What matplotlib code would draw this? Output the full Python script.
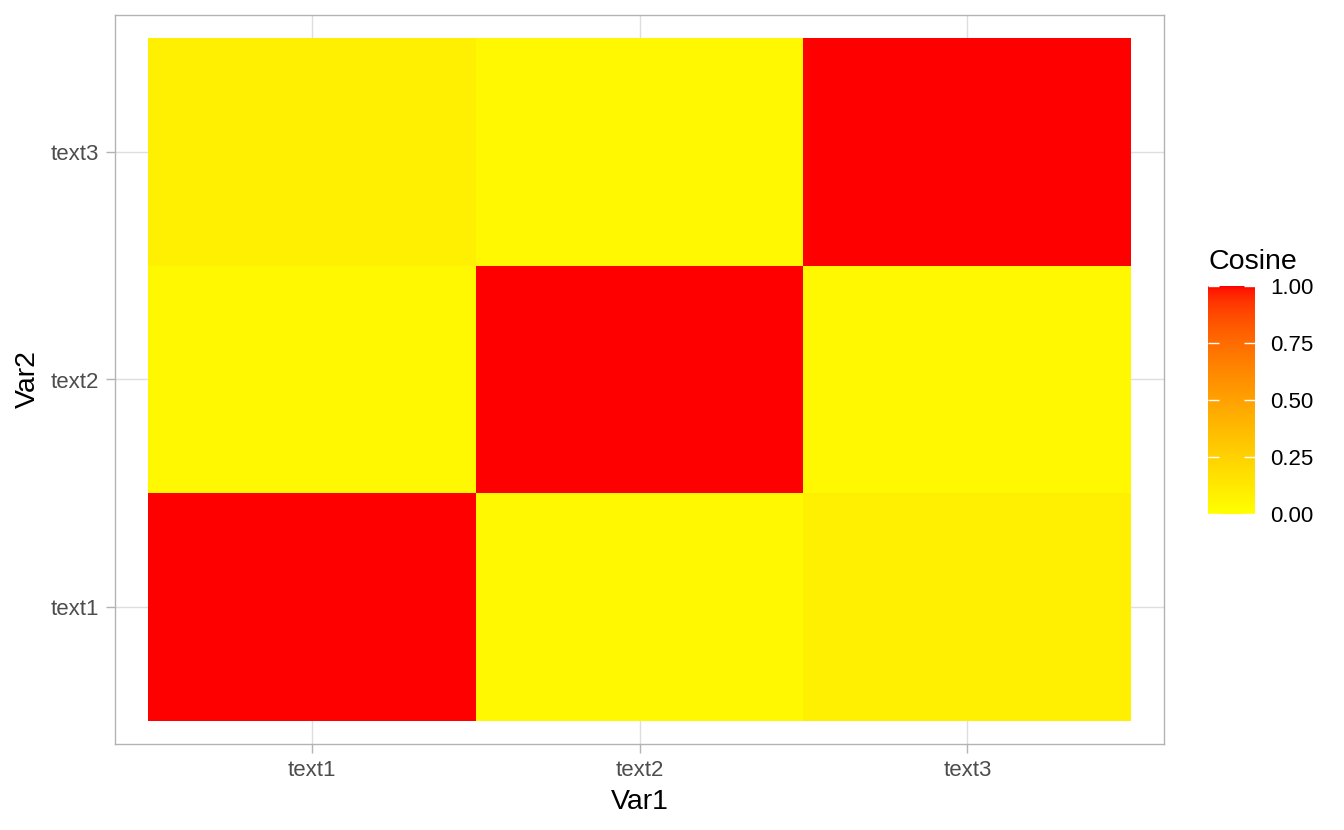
import numpy as np
import matplotlib
matplotlib.use("Agg")
import matplotlib.pyplot as plt
from matplotlib.colors import ListedColormap

plt.rcParams['font.family'] = ['Liberation Sans', 'DejaVu Sans']

labels = ["text1", "text2", "text3"]
# cosine[i_var2][j_var1]
cosine = np.array([
    [1.00, 0.04, 0.09],
    [0.04, 1.00, 0.04],
    [0.09, 0.04, 1.00],
])

# --- Lab-interpolated yellow -> red gradient (like ggplot2 scale_fill_gradient)
def srgb_to_lin(c):
    c = np.asarray(c, float)
    return np.where(c <= 0.04045, c / 12.92, ((c + 0.055) / 1.055) ** 2.4)

def lin_to_srgb(c):
    c = np.clip(c, 0, 1)
    return np.where(c <= 0.0031308, 12.92 * c, 1.055 * c ** (1 / 2.4) - 0.055)

M = np.array([[0.4124, 0.3576, 0.1805],
              [0.2126, 0.7152, 0.0722],
              [0.0193, 0.1192, 0.9505]])
Minv = np.linalg.inv(M)
white = M @ np.ones(3)

def f(t):
    d = 6 / 29
    return np.where(t > d ** 3, np.cbrt(t), t / (3 * d * d) + 4 / 29)

def finv(t):
    d = 6 / 29
    return np.where(t > d, t ** 3, 3 * d * d * (t - 4 / 29))

def rgb_to_lab(rgb):
    xyz = M @ srgb_to_lin(rgb) / white
    fx, fy, fz = f(xyz)
    return np.array([116 * fy - 16, 500 * (fx - fy), 200 * (fy - fz)])

def lab_to_rgb(lab):
    L, a, b = lab
    fy = (L + 16) / 116
    fx = fy + a / 500
    fz = fy - b / 200
    xyz = np.array([finv(fx), finv(fy), finv(fz)]) * white
    return lin_to_srgb(Minv @ xyz)

lab_lo = rgb_to_lab([1, 1, 0])
lab_hi = rgb_to_lab([1, 0, 0])
ts = np.linspace(0, 1, 256)
cols = [np.clip(lab_to_rgb(lab_lo + t * (lab_hi - lab_lo)), 0, 1) for t in ts]
cmap = ListedColormap(cols)

fig = plt.figure(figsize=(13.44, 8.30), dpi=100)
ax = fig.add_axes([115 / 1344, 1 - 744 / 830, 1049 / 1344, 729 / 830])

pos = np.arange(1, 4)
edges = np.arange(0.5, 4.0, 1.0)
mesh = ax.pcolormesh(edges, edges, cosine, cmap=cmap, vmin=0, vmax=1,
                     shading='flat', zorder=2, edgecolor='none')

ax.set_xlim(0.4, 3.6)
ax.set_ylim(0.4, 3.6)
ax.set_xticks(pos)
ax.set_xticklabels(labels)
ax.set_yticks(pos)
ax.set_yticklabels(labels)
ax.grid(True, color='#DEDEDE', linewidth=1.0, zorder=0)
ax.set_axisbelow(True)
for s in ax.spines.values():
    s.set_color('#B3B3B3')
    s.set_linewidth(1.0)
ax.tick_params(axis='both', colors='#B3B3B3', labelcolor='#4D4D4D',
               labelsize=16, length=6.5, width=1.0, pad=5)
ax.set_xlabel("Var1", fontsize=20.5, color='black', labelpad=6)
ax.set_ylabel("Var2", fontsize=20.5, color='black', labelpad=7)

cax = fig.add_axes([1208 / 1344, 1 - 514 / 830, 47 / 1344, 228 / 830])
cb = fig.colorbar(mesh, cax=cax, ticks=[0, 0.25, 0.5, 0.75, 1.0])
cb.outline.set_visible(False)
cb.ax.set_yticklabels(["0.00", "0.25", "0.50", "0.75", "1.00"])
cb.ax.tick_params(axis='y', which='both', direction='in', length=8, width=1.0,
                  colors='white', labelcolor='black', labelsize=16,
                  left=True, right=True, pad=11)
cb.ax.minorticks_off()
cb.ax.set_title("Cosine", fontsize=20.5, loc='left', pad=12, color='black')

fig.savefig("out.png", dpi=100)
